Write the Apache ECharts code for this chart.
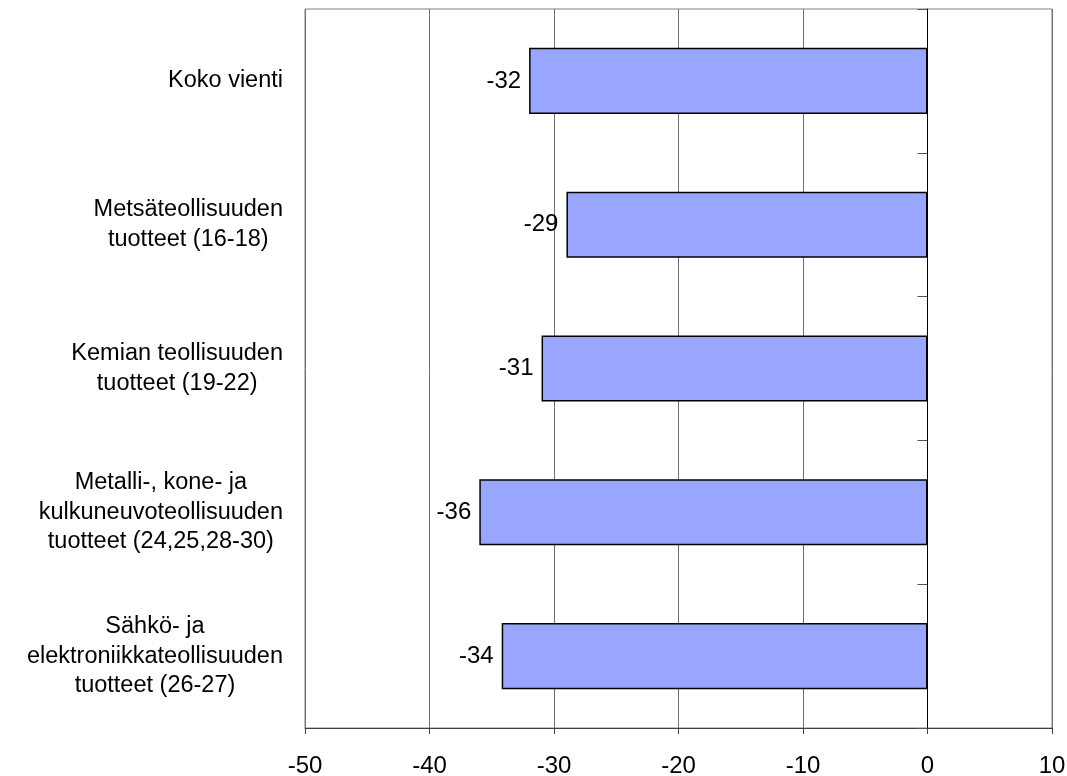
<!DOCTYPE html>
<html>
<head>
<meta charset="utf-8">
<script src="https://cdn.jsdelivr.net/npm/echarts@6/dist/echarts.min.js"></script>
<style>
html,body{margin:0;padding:0;background:#fff;}
#c{width:1067px;height:776px;}
</style>
</head>
<body>
<div id="c"></div>
<script>
// Data
var categoryLines = [
  ['Koko vienti'],
  ['Metsäteollisuuden', 'tuotteet (16-18)'],
  ['Kemian teollisuuden', 'tuotteet (19-22)'],
  ['Metalli-, kone- ja', 'kulkuneuvoteollisuuden', 'tuotteet (24,25,28-30)'],
  ['Sähkö- ja', 'elektroniikkateollisuuden', 'tuotteet (26-27)']
];
var values = [-32, -29, -31, -36, -34.2];
var valueLabels = ['-32', '-29', '-31', '-36', '-34'];
var xMin = -50, xMax = 10, xStep = 10;

var FONT = 'Liberation Sans, Arial, sans-serif';
var FS = 24;
var CFS = 23.5;
var categories = categoryLines.map(function (l) { return l.join('\n'); });

var chart = echarts.init(document.getElementById('c'), null, {renderer: 'canvas'});
chart.setOption({
  animation: false,
  backgroundColor: '#fff',
  grid: {
    left: 305, right: 15, top: 9, bottom: 48,
    outerBoundsMode: 'none', containLabel: false,
    show: true, borderColor: '#808080', borderWidth: 1, backgroundColor: 'transparent'
  },
  xAxis: {
    type: 'value', min: xMin, max: xMax, interval: xStep,
    axisLine: {show: true, onZero: false, lineStyle: {color: '#404040', width: 1}},
    axisTick: {show: true, length: 6, lineStyle: {color: '#404040'}},
    axisLabel: {fontSize: FS, color: '#000', fontFamily: FONT, margin: 26},
    splitLine: {show: true, lineStyle: {color: '#707070', width: 1}}
  },
  yAxis: [{
    type: 'category', data: categories, inverse: true, position: 'left',
    axisLine: {show: false, onZero: false},
    axisTick: {show: false},
    axisLabel: {
      margin: 22, fontSize: CFS, color: '#000', fontFamily: FONT, lineHeight: 29.5,
      formatter: function (v) {
        return v.split('\n').map(function (s) { return '{c|' + s + '}'; }).join('\n');
      },
      rich: {c: {align: 'center', fontSize: CFS, lineHeight: 29.5, fontFamily: FONT, color: '#000'}}
    }
  }, {
    type: 'category', data: categories, inverse: true, position: 'left',
    axisLine: {show: true, onZero: true, onZeroAxisIndex: 0, lineStyle: {color: '#000', width: 1}},
    axisTick: {show: true, length: 10, lineStyle: {color: '#555'}},
    axisLabel: {show: false},
    splitLine: {show: false}
  }],
  series: [{
    type: 'bar',
    data: values,
    barWidth: '46%',
    itemStyle: {color: '#99A6FF', borderColor: '#000', borderWidth: 1.5},
    label: {
      show: true, position: 'left', distance: 8,
      fontSize: FS, color: '#000', fontFamily: FONT,
      formatter: function (p) { return valueLabels[p.dataIndex]; }
    }
  }]
});
</script>
</body>
</html>
